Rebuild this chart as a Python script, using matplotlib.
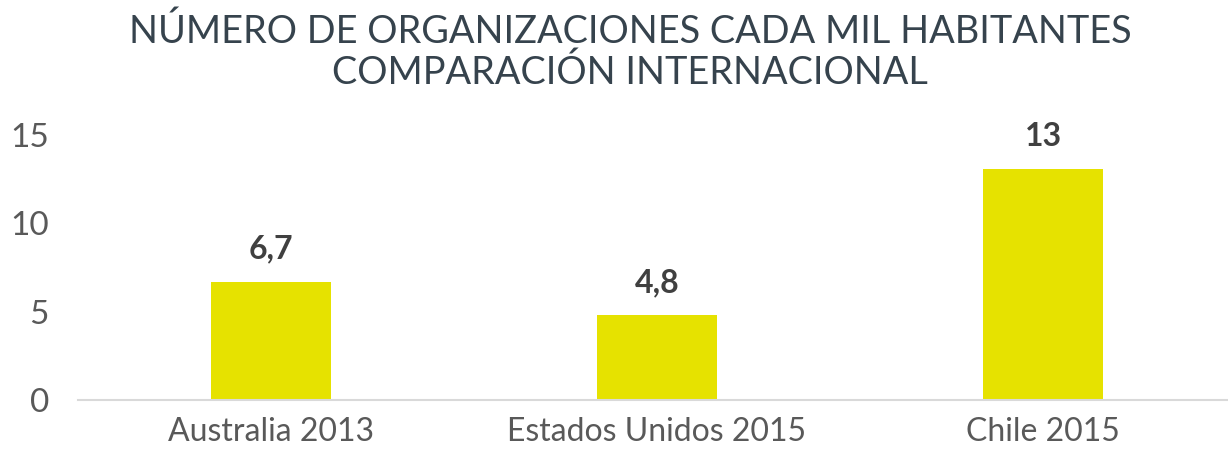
import matplotlib
matplotlib.use('Agg')
import matplotlib.pyplot as plt

categories = ['Australia 2013', 'Estados Unidos 2015', 'Chile 2015']
values = [6.7, 4.8, 13.1]
valueLabels = ['6,7', '4,8', '13']
yTicks = [0, 5, 10, 15]
title = 'NÚMERO DE ORGANIZACIONES CADA MIL HABITANTES\nCOMPARACIÓN INTERNACIONAL'

barColor = '#E6E200'
textGrey = '#595959'

plt.rcParams['font.family'] = ['Lato', 'DejaVu Sans']

fig = plt.figure(figsize=(12.28, 4.58), dpi=100)
ax = fig.add_axes([0.0635, 0.1266, 0.943, 0.5786])

xs = list(range(len(categories)))
ax.bar(xs, values, width=0.31, color=barColor, zorder=2)

i = 0
while i < len(values):
    ax.annotate(valueLabels[i], (xs[i], values[i]), xytext=(0, 13),
                textcoords='offset points', ha='center', va='bottom',
                fontsize=23, fontweight='bold', color='#404040')
    i = i + 1

ax.set_xlim(-0.5, 2.5)
ax.set_ylim(0, 15)
ax.set_yticks(yTicks)
ax.set_xticks(xs)
ax.set_xticklabels(categories)
ax.tick_params(axis='y', length=0, pad=21, labelsize=24, labelcolor=textGrey)
ax.tick_params(axis='x', length=0, pad=12, labelsize=23, labelcolor=textGrey)

for side in ['top', 'right', 'left']:
    ax.spines[side].set_visible(False)
ax.spines['bottom'].set_color('#D9D9D9')
ax.spines['bottom'].set_linewidth(1.5)

fig.text(0.513, 0.97, title, ha='center', va='top', fontsize=27.3,
         color='#36434D', linespacing=1.15)

fig.savefig('out.png', dpi=100)
